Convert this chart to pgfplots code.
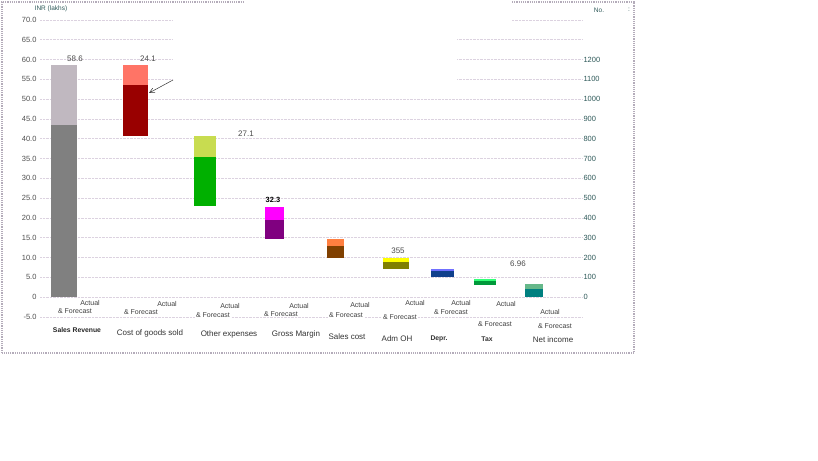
\documentclass[border=0pt]{standalone}
\usepackage{pgfplots}
\pgfplotsset{compat=1.18}
\usepackage{fontspec}
\setmainfont{Liberation Sans}
\usetikzlibrary{arrows.meta}
\definecolor{gridc}{HTML}{DCD2E0}
\definecolor{tickc}{HTML}{505050}
\definecolor{rtick}{HTML}{2F5A5A}
\definecolor{framec}{HTML}{B4ACBA}
\definecolor{c1a}{HTML}{808080}\definecolor{c1b}{HTML}{C0B8C0}
\definecolor{c2a}{HTML}{990000}\definecolor{c2b}{HTML}{FF7466}
\definecolor{c3a}{HTML}{00B000}\definecolor{c3b}{HTML}{C8DC50}
\definecolor{c4a}{HTML}{800080}\definecolor{c4b}{HTML}{FF00FF}
\definecolor{c5a}{HTML}{804000}\definecolor{c5b}{HTML}{FF7F40}
\definecolor{c6a}{HTML}{808000}\definecolor{c6b}{HTML}{FFFF00}
\definecolor{c7a}{HTML}{10408C}\definecolor{c7b}{HTML}{7070FF}
\definecolor{c8a}{HTML}{00993A}\definecolor{c8b}{HTML}{33FF77}
\definecolor{c9a}{HTML}{008080}\definecolor{c9b}{HTML}{66B88A}
\newcommand{\seg}[5]{\addplot[fill=#5, draw=none] coordinates {(#1,#3) (#2,#3) (#2,#4) (#1,#4)} --cycle;}
\begin{document}
\begin{tikzpicture}[x=1pt,y=1pt]
\path[fill=white] (0,0) rectangle (818,460);
\begin{axis}[at={(40pt,143pt)}, anchor=south west, scale only axis,
  width=543pt, height=297pt,
  xmin=40, xmax=583, ymin=-5, ymax=70,
  axis line style={draw=none}, xtick=\empty,
  ytick={-5,0,5,10,15,20,25,30,35,40,45,50,55,60,65,70},
  yticklabels={-5.0,0,5.0,10.0,15.0,20.0,25.0,30.0,35.0,40.0,45.0,50.0,55.0,60.0,65.0,70.0},
  major tick length=0pt,
  ymajorgrids, grid style={densely dotted, gridc, line width=0.8pt},
  yticklabel style={font=\fontsize{7.5}{8}\selectfont, text=tickc},
  /pgf/number format/assume math mode=true,
  clip=false]
% Sales Revenue
\seg{51}{77}{0}{43.4}{c1a}
\seg{51}{77}{43.4}{58.6}{c1b}
% Cost of goods sold
\seg{123}{148}{40.6}{53.5}{c2a}
\seg{123}{148}{53.5}{58.6}{c2b}
% Other expenses
\seg{194}{216}{23.0}{35.4}{c3a}
\seg{194}{216}{35.4}{40.7}{c3b}
% Gross margin
\seg{265}{284}{14.7}{19.4}{c4a}
\seg{265}{284}{19.4}{22.7}{c4b}
% Sales cost
\seg{327}{344}{9.8}{12.9}{c5a}
\seg{327}{344}{12.9}{14.7}{c5b}
% Adm OH
\seg{383}{409}{7.0}{8.9}{c6a}
\seg{383}{409}{8.9}{9.9}{c6b}
% Depr.
\seg{431}{454}{5.0}{6.6}{c7a}
\seg{431}{454}{6.6}{7.1}{c7b}
% Tax
\seg{474}{496}{3.2}{4.1}{c8a}
\seg{474}{496}{4.1}{4.7}{c8b}
% Net income
\seg{525}{543}{0}{2.1}{c9a}
\seg{525}{543}{2.1}{3.3}{c9b}
\end{axis}
\begin{axis}[at={(40pt,143pt)}, anchor=south west, scale only axis,
  width=543pt, height=297pt,
  xmin=0, xmax=1, ymin=-100, ymax=1400,
  axis line style={draw=none}, xtick=\empty, axis y line*=right,
  ytick={0,100,200,300,400,500,600,700,800,900,1000,1100,1200},
  major tick length=0pt,
  yticklabel style={font=\fontsize{7.5}{8}\selectfont, text=rtick, xshift=-3pt},
  /pgf/number format/assume math mode=true,
  /pgf/number format/1000 sep={}]
\addplot[draw=none] coordinates {(0,0) (1,0)};
\end{axis}
% cover artefact region
\fill[white] (173,448) rectangle (457,370);
\fill[white] (457,448) rectangle (512,430);
% frame
\draw[framec, densely dotted, line width=1.2pt] (2,107) -- (2,458) -- (243,458);
\draw[framec, densely dotted, line width=1.2pt] (512,458) -- (634,458) -- (634,107) -- (2,107);
% arrow
\draw[-{Straight Barb[length=5pt,width=5pt]}, black!80, line width=0.5pt] (173,380) -- (149,367);
% axis titles
\node[font=\fontsize{6.5}{7}\selectfont, text=rtick] at (51,451) {INR (lakhs)};
\node[font=\fontsize{6.5}{7}\selectfont, text=rtick] at (599,450) {No.};
\node[font=\fontsize{6.5}{7}\selectfont, text=rtick] at (629,450) {:};
% value labels
\begin{scope}[every node/.style={font=\fontsize{8}{9}\selectfont, text=black!70}]
\node at (75,401) {58.6};
\node at (148,401) {24.1};
\node at (246,326) {27.1};
\node[font=\bfseries\fontsize{7.5}{9}\selectfont, text=black] at (273,260) {32.3};
\node at (398,209) {355};
\node at (518,196) {6.96};
\end{scope}
% Actual / & Forecast
\begin{scope}[every node/.style={font=\fontsize{7}{8}\selectfont, text=black!75, fill=white, inner sep=1pt}]
\node at (90,157) {Actual}; \node at (75,149) {\& Forecast};
\node at (167,156) {Actual}; \node at (141,148) {\& Forecast};
\node at (230,154) {Actual}; \node at (213,145) {\& Forecast};
\node at (299,154) {Actual}; \node at (281,146) {\& Forecast};
\node at (360,155) {Actual}; \node at (346,145) {\& Forecast};
\node at (415,157) {Actual}; \node at (400,143) {\& Forecast};
\node at (461,157) {Actual}; \node at (451,148) {\& Forecast};
\node at (506,156) {Actual}; \node at (495,136) {\& Forecast};
\node at (550,148) {Actual}; \node at (555,134) {\& Forecast};
\end{scope}
% category labels
\begin{scope}[every node/.style={font=\fontsize{8}{9}\selectfont, text=black!80}]
\node[font=\fontsize{6.8}{8}\selectfont\bfseries, text=black!85] at (77,130) {Sales Revenue};
\node at (150,127) {Cost of goods sold};
\node at (229,126) {Other expenses};
\node at (296,126) {Gross Margin};
\node at (347,123) {Sales cost};
\node at (397,121) {Adm OH};
\node[font=\fontsize{6.8}{7}\selectfont\bfseries, text=black!80] at (439,121) {Depr.};
\node[font=\fontsize{6.8}{7}\selectfont\bfseries, text=black!80] at (487,121) {Tax};
\node at (553,120) {Net income};
\end{scope}
\end{tikzpicture}
\end{document}
